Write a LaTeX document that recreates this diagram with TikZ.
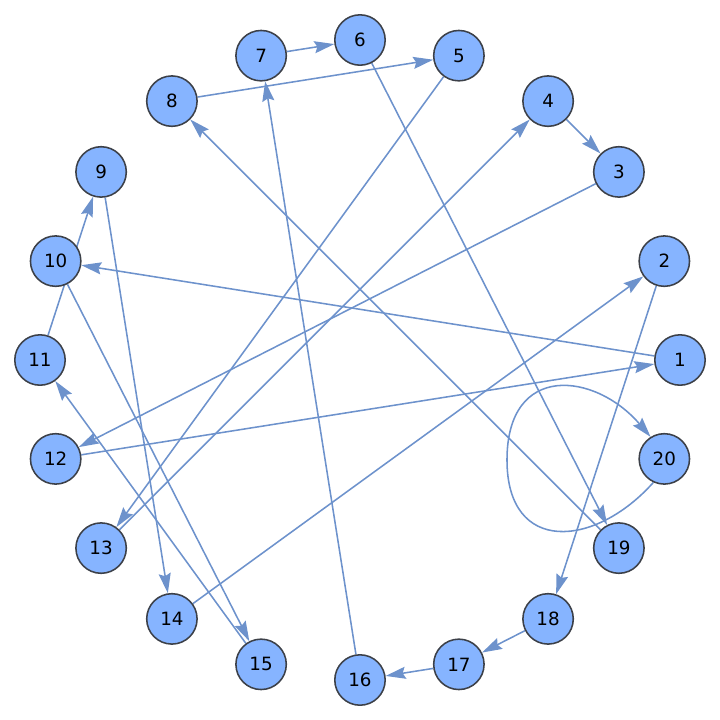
\documentclass[tikz,border=0pt]{standalone}
\usepackage{fontspec}
\setmainfont{DejaVu Sans}
\usetikzlibrary{arrows.meta}
\pgfdeclarelayer{bg}
\pgfsetlayers{bg,main}
\definecolor{edgec}{RGB}{109,146,204}
\definecolor{nodef}{RGB}{134,180,255}
\definecolor{noded}{RGB}{60,64,72}
\begin{document}
\begin{tikzpicture}[
  vtx/.style={circle, draw=noded, fill=nodef, line width=1.1pt, minimum size=1.26cm, inner sep=0pt, font=\fontsize{13}{13}\selectfont},
  edge/.style={draw=edgec, line width=1.1pt, -{Stealth[length=0.5cm,width=0.3cm,inset=0.07cm]}}
]
\useasboundingbox (-9,-9) rectangle (9,9);
\foreach \k in {1,...,20} \node[vtx] (n\k) at ({(\k-1)*18}:8) {\k};
\begin{pgfonlayer}{bg}
\draw[edge] (n7) -- (n6);
\draw[edge] (n8) -- (n5);
\draw[edge] (n6) -- (n19);
\draw[edge] (n5) -- (n13);
\draw[edge] (n4) -- (n3);
\draw[edge] (n13) -- (n4);
\draw[edge] (n3) -- (n12);
\draw[edge] (n1) -- (n10);
\draw[edge] (n12) -- (n1);
\draw[edge] (n2) -- (n18);
\draw[edge] (n14) -- (n2);
\draw[edge] (n19) -- (n8);
\draw[edge] (n11) -- (n9);
\draw[edge] (n9) -- (n14);
\draw[edge] (n10) -- (n15);
\draw[edge] (n15) -- (n11);
\draw[edge] (n16) -- (n7);
\draw[edge] (n17) -- (n16);
\draw[edge] (n18) -- (n17);
\draw[edge] (n20.245) .. controls (5.875,-4.7) and (3.675,-4.875) .. (3.675,-2.5)
  .. controls (3.675,-0.05) and (5.875,-0.3) .. (n20.122);
\end{pgfonlayer}
\end{tikzpicture}
\end{document}
